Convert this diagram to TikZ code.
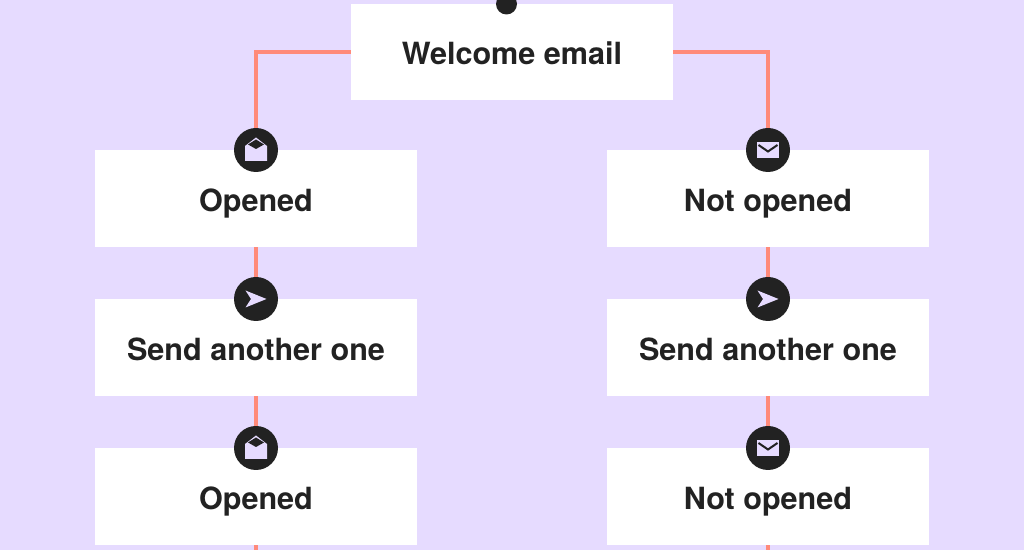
\documentclass[tikz,border=0pt]{standalone}
\usepackage{fontspec}
\setmainfont{TeX Gyre Heros}
\usetikzlibrary{positioning}
\definecolor{lilac}{HTML}{E6DBFF}
\definecolor{inkdark}{HTML}{222222}
\definecolor{salmon}{HTML}{FF8A7A}
\tikzset{
	stepbox/.style={fill=white, text=inkdark, minimum width=6.43cm, minimum height=1.94cm, inner sep=0pt, text height=0.66cm, text depth=0.144cm, font=\fontsize{17.4}{20}\selectfont\bfseries},
	iconball/.style={circle, fill=inkdark, minimum size=0.88cm, inner sep=0pt},
	link/.style={salmon, line width=0.065cm},
	openicon/.pic={
		\fill[lilac] (-0.22,-0.22)--(0.22,-0.22)--(0.22,0.08)--(0,0.25)--(-0.22,0.08)--cycle;
		\fill[inkdark] (-0.16,0.11)--(0,0.21)--(0.16,0.11)--(0,0.02)--cycle;
	},
	closedicon/.pic={
		\fill[lilac] (-0.22,-0.17) rectangle (0.22,0.16);
		\draw[inkdark, line width=0.04cm] (-0.19,0.1)--(0,-0.03)--(0.19,0.1);
	},
	sendicon/.pic={
		\fill[lilac] (-0.21,0.17)--(0.21,0)--(-0.21,-0.17)--(-0.1,0)--cycle;
	},
}
\begin{document}
\begin{tikzpicture}
		\clip (0,0) rectangle (20.48,11);
		\fill[lilac] (0,0) rectangle (20.48,11);
		%
		\node[stepbox, minimum height=1.92cm] (welcome) at (10.24,9.96){Welcome email};
		\node[circle, fill=inkdark, minimum size=0.42cm, inner sep=0pt] (start) at (10.13,10.92){};
		%
		\node[stepbox] (openA) at (5.12,7.03){Opened};
		\node[stepbox] (sendA) at (5.12,4.05){Send another one};
		\node[stepbox] (openB) at (5.12,1.07){Opened};
		\node[stepbox] (notA) at (15.36,7.03){Not opened};
		\node[stepbox] (sendB) at (15.36,4.05){Send another one};
		\node[stepbox] (notB) at (15.36,1.07){Not opened};
		%
		\node[iconball] (ballA) at (5.12,8){};
		\node[iconball] (ballB) at (5.12,5.02){};
		\node[iconball] (ballC) at (5.12,2.04){};
		\node[iconball] (ballD) at (15.36,8){};
		\node[iconball] (ballE) at (15.36,5.02){};
		\node[iconball] (ballF) at (15.36,2.04){};
		\pic at (ballA){openicon};
		\pic at (ballB){sendicon};
		\pic at (ballC){openicon};
		\pic at (ballD){closedicon};
		\pic at (ballE){sendicon};
		\pic at (ballF){closedicon};
		%
		\coordinate (endA) at (5.12,0);
		\coordinate (endB) at (15.36,0);
		\draw[link] (welcome.west)-|(ballA.north);
		\draw[link] (welcome.east)-|(ballD.north);
		\draw[link] (openA.south)--(ballB.north);
		\draw[link] (sendA.south)--(ballC.north);
		\draw[link] (openB.south)--(endA);
		\draw[link] (notA.south)--(ballE.north);
		\draw[link] (sendB.south)--(ballF.north);
		\draw[link] (notB.south)--(endB);
	\end{tikzpicture}
\end{document}
